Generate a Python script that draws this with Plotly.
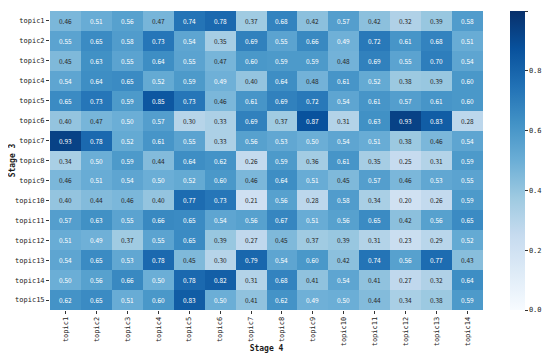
import plotly.graph_objects as go

rows = [f"topic{i}" for i in range(1, 16)]
cols = [f"topic{i}" for i in range(1, 15)]

values = [
    [0.46, 0.51, 0.56, 0.47, 0.74, 0.78, 0.37, 0.68, 0.42, 0.57, 0.42, 0.32, 0.39, 0.58],
    [0.55, 0.65, 0.58, 0.73, 0.54, 0.35, 0.69, 0.55, 0.66, 0.49, 0.72, 0.61, 0.68, 0.51],
    [0.45, 0.63, 0.55, 0.64, 0.55, 0.47, 0.60, 0.59, 0.59, 0.48, 0.69, 0.55, 0.70, 0.54],
    [0.54, 0.64, 0.65, 0.52, 0.59, 0.49, 0.40, 0.64, 0.48, 0.61, 0.52, 0.38, 0.39, 0.60],
    [0.65, 0.73, 0.59, 0.85, 0.73, 0.46, 0.61, 0.69, 0.72, 0.54, 0.61, 0.57, 0.61, 0.60],
    [0.40, 0.47, 0.50, 0.57, 0.30, 0.33, 0.69, 0.37, 0.87, 0.31, 0.63, 0.93, 0.83, 0.28],
    [0.93, 0.78, 0.52, 0.61, 0.55, 0.33, 0.56, 0.53, 0.50, 0.54, 0.51, 0.38, 0.46, 0.54],
    [0.34, 0.50, 0.59, 0.44, 0.64, 0.62, 0.26, 0.59, 0.36, 0.61, 0.35, 0.25, 0.31, 0.59],
    [0.46, 0.51, 0.54, 0.50, 0.52, 0.60, 0.46, 0.64, 0.51, 0.45, 0.57, 0.46, 0.53, 0.55],
    [0.40, 0.44, 0.46, 0.40, 0.77, 0.73, 0.21, 0.56, 0.28, 0.58, 0.34, 0.20, 0.26, 0.59],
    [0.57, 0.63, 0.55, 0.66, 0.65, 0.54, 0.56, 0.67, 0.51, 0.56, 0.65, 0.42, 0.56, 0.65],
    [0.51, 0.49, 0.37, 0.55, 0.65, 0.39, 0.27, 0.45, 0.37, 0.39, 0.31, 0.23, 0.29, 0.52],
    [0.54, 0.65, 0.53, 0.78, 0.45, 0.30, 0.79, 0.54, 0.60, 0.42, 0.74, 0.56, 0.77, 0.43],
    [0.50, 0.56, 0.66, 0.50, 0.78, 0.82, 0.31, 0.68, 0.41, 0.54, 0.41, 0.27, 0.32, 0.64],
    [0.62, 0.65, 0.51, 0.60, 0.83, 0.50, 0.41, 0.62, 0.49, 0.50, 0.44, 0.34, 0.38, 0.59],
]

colorbar_ticks = [0.0, 0.2, 0.4, 0.6, 0.8, 1.0]

blues = [
    [0.0, "#f7fbff"], [0.125, "#deebf7"], [0.25, "#c6dbef"], [0.375, "#9ecae1"],
    [0.5, "#6baed6"], [0.625, "#4292c6"], [0.75, "#2171b5"], [0.875, "#08519c"],
    [1.0, "#08306b"],
]

MONO = "DejaVu Sans Mono, Liberation Mono, monospace"
CELL = "Noto Sans CJK SC, sans-serif"

fig = go.Figure(go.Heatmap(
    z=values, x=cols, y=rows, zmin=0, zmax=1, colorscale=blues,
    xgap=0, ygap=0,
    colorbar=dict(
        x=1.062, xanchor="left", xpad=0, y=0.5, yanchor="middle", ypad=0,
        len=1, lenmode="fraction",
        thickness=15, outlinewidth=0, tickvals=colorbar_ticks,
        ticktext=[f"{t:.1f}" for t in colorbar_ticks],
        ticks="outside", ticklen=3, tickcolor="#333",
        tickfont=dict(family=MONO, size=7, color="#222"),
    ),
))

annotations = []
for i, r in enumerate(rows):
    for j, c in enumerate(cols):
        v = values[i][j]
        annotations.append(dict(
            x=c, y=r, text=f"{v:.2f}", showarrow=False, xref="x", yref="y",
            font=dict(family=CELL, size=6.5, color="#262626" if v < 0.485 else "white"),
        ))

# page body adds an 8px offset; size and margins compensate so the plot sits where the reference has it
fig.update_layout(
    width=542, height=353,
    margin=dict(l=42, r=67, t=3, b=51, autoexpand=False),
    plot_bgcolor="white", paper_bgcolor="white",
    annotations=annotations,
    font=dict(family=MONO, color="#222"),
)
fig.update_xaxes(
    automargin=False,
    tickangle=-90, ticks="outside", ticklen=3, tickcolor="#333",
    tickfont=dict(family=MONO, size=7, color="#1a1a1a"), showgrid=False, zeroline=False,
    title=dict(text="<b>Stage 4</b>", font=dict(family=MONO, size=8, color="#1a1a1a"), standoff=0),
)
fig.update_yaxes(
    automargin=False,
    autorange="reversed", ticks="outside", ticklen=3, tickcolor="#333",
    tickfont=dict(family=MONO, size=7, color="#1a1a1a"), showgrid=False, zeroline=False,
    title=dict(text="<b>Stage 3</b>", font=dict(family=MONO, size=8, color="#1a1a1a"), standoff=3),
)

fig.write_html("out.html")
